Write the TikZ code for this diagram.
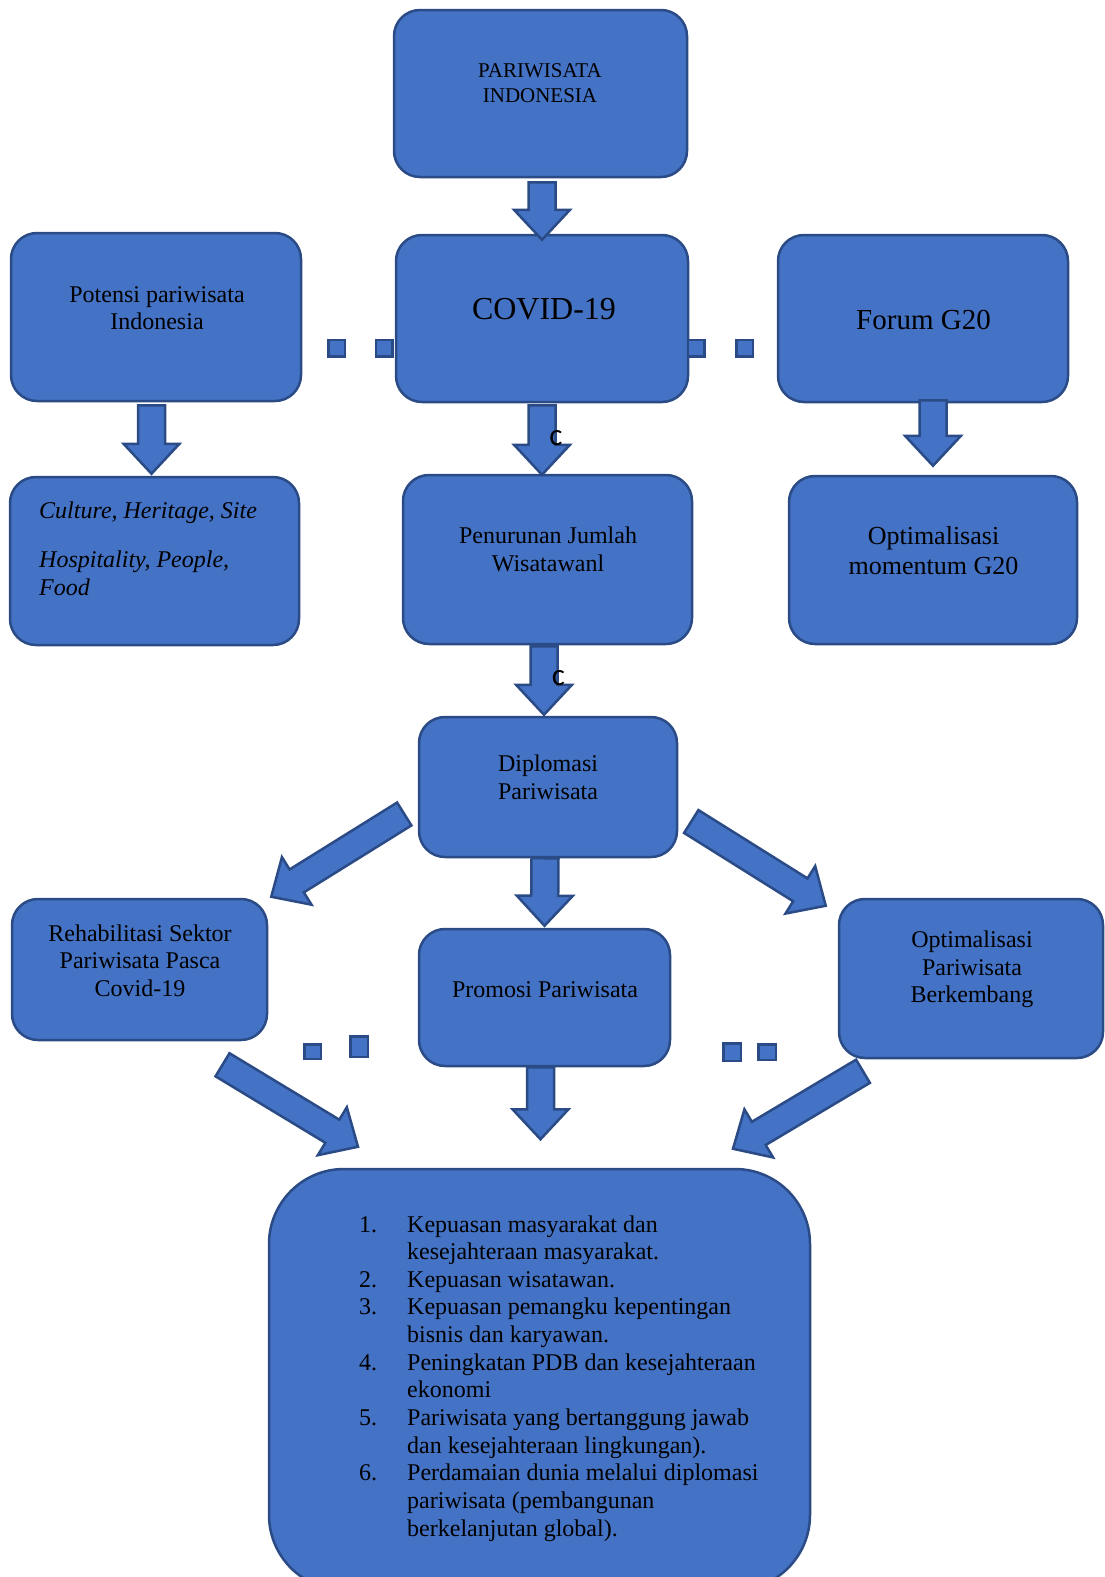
\documentclass[tikz,border=0pt]{standalone}
\usepackage{fontspec}
\setmainfont{Liberation Serif}
\newfontfamily\calibri{Carlito}
\usetikzlibrary{calc}

\definecolor{boxfill}{HTML}{4472C4}
\definecolor{boxline}{HTML}{2A4B85}

\tikzset{
  box/.style={draw=boxline, fill=boxfill, line width=2.5pt, rounded corners=26pt, inner sep=0pt},
  txt/.style={align=center, inner sep=0pt, font=\fontsize{24}{27.6}\selectfont},
  sqdot/.style={draw=boxline, fill=boxfill, line width=2.5pt},
  fatarr/.style={draw=boxline, fill=boxfill, line width=2.5pt, line join=miter},
}

% fat block arrow from #1 (tail) to #2 (tip)
\newcommand{\fatarrow}[2]{%
  \draw[fatarr] let \p1=(#1), \p2=(#2), \n1={atan2(\y2-\y1,\x2-\x1)} in
    ($(\p1)+({\n1+90}:13.5pt)$)
    -- ($(\p2)+({\n1+180}:30pt)+({\n1+90}:13.5pt)$)
    -- ($(\p2)+({\n1+180}:30pt)+({\n1+90}:28pt)$)
    -- (\p2)
    -- ($(\p2)+({\n1+180}:30pt)+({\n1-90}:28pt)$)
    -- ($(\p2)+({\n1+180}:30pt)+({\n1-90}:13.5pt)$)
    -- ($(\p1)+({\n1-90}:13.5pt)$) -- cycle;}

\begin{document}
\begin{tikzpicture}[x=1pt, y=-1pt]
    \useasboundingbox (0,0) rectangle (1105,1577);

    % boxes
    \node[box, minimum width=293, minimum height=167] (top) at (540.5,93.5) {};
    \node[box, minimum width=290, minimum height=168] (pot) at (156,317) {};
    \node[box, minimum width=292, minimum height=167] (cov) at (542,318.5) {};
    \node[box, minimum width=290, minimum height=167] (g20) at (923,318.5) {};
    \node[box, minimum width=289, minimum height=168] (cul) at (154.5,561) {};
    \node[box, minimum width=289, minimum height=169] (pen) at (547.5,559.5) {};
    \node[box, minimum width=288, minimum height=168] (mom) at (933,560) {};
    \node[box, minimum width=258, minimum height=140] (dip) at (548,787) {};
    \node[box, minimum width=255, minimum height=141] (reh) at (139.5,969.5) {};
    \node[box, minimum width=251, minimum height=137] (pro) at (544.5,997.5) {};
    \node[box, minimum width=264, minimum height=159] (opt) at (971,978.5) {};
    \node[box, rounded corners=75pt, minimum width=541, minimum height=421] (bot) at (539.5,1379.5) {};

    % texts
    \node[txt, font=\fontsize{21}{25}\selectfont] (toptxt) at (540,83) {PARIWISATA\\INDONESIA};
    \node[txt] (pottxt) at (157,308) {Potensi pariwisata\\Indonesia};
    \node[txt, font=\fontsize{32}{38}\selectfont] (covtxt) at (544,309) {COVID-19};
    \node[txt, font=\fontsize{29}{34}\selectfont] (g20txt) at (923.5,320) {Forum G20};
    \node[txt, align=left, anchor=west, font=\fontsize{24}{27.6}\selectfont\itshape] (cultxt) at (39,549)
        {Culture, Heritage, Site\\[21.5pt]Hospitality, People,\\Food};
    \node[txt] (pentxt) at (548,549.5) {Penurunan Jumlah\\Wisatawanl};
    \node[txt, font=\fontsize{26}{30}\selectfont] (momtxt) at (933.5,551) {Optimalisasi\\momentum G20};
    \node[txt] (diptxt) at (548,777) {Diplomasi\\Pariwisata};
    \node[txt] (rehtxt) at (140,960.5) {Rehabilitasi Sektor\\Pariwisata Pasca\\Covid-19};
    \node[txt] (protxt) at (545,989.5) {Promosi Pariwisata};
    \node[txt] (opttxt) at (972,969.5) {Optimalisasi\\Pariwisata\\Berkembang};
    \node[anchor=base west, inner sep=0pt, font=\fontsize{24}{27.65}\selectfont] (list) at (359,1232) {%
        \begin{tabular}[t]{@{}p{48pt}@{}l@{}}
        1. & Kepuasan masyarakat dan\\
           & kesejahteraan masyarakat.\\
        2. & Kepuasan wisatawan.\\
        3. & Kepuasan pemangku kepentingan\\
           & bisnis dan karyawan.\\
        4. & Peningkatan PDB dan kesejahteraan\\
           & ekonomi\\
        5. & Pariwisata yang bertanggung jawab\\
           & dan kesejahteraan lingkungan).\\
        6. & Perdamaian dunia melalui diplomasi\\
           & pariwisata (pembangunan\\
           & berkelanjutan global).
        \end{tabular}};

    % square dot connectors
    \foreach \x in {336.5, 384} \draw[sqdot] (\x-8.25,339.75) rectangle (\x+8.25,356.25);
    \foreach \x in {696, 744.5} \draw[sqdot] (\x-8.25,339.75) rectangle (\x+8.25,356.25);
    \draw[sqdot] (304.25,1044.25) rectangle (320.75,1058.75);
    \draw[sqdot] (350.25,1036.25) rectangle (367.75,1056.75);
    \draw[sqdot] (723.25,1043.25) rectangle (740.75,1060.75);
    \draw[sqdot] (758.25,1044.25) rectangle (775.75,1059.75);

    % block arrows
    \fatarrow{$(top.south -| cov.north)+(0,4)$}{$(cov.north)+(0,6)$}
    \fatarrow{$(pot.south -| cul.north)+(-3,3)$}{$(cul.north)+(-3,-2)$}
    \fatarrow{$(cov.south)+(0,2)$}{$(cov.south |- pen.north)+(0,1)$}
    \fatarrow{$(g20.south -| mom.north)+(0,-3)$}{$(mom.north)+(0,-9)$}
    \fatarrow{$(pen.south -| dip.north)+(-4,1)$}{$(dip.north)+(-4,-1)$}
    \fatarrow{$(dip.south)+(-3,0)$}{$(pro.north)+(0,-2)$}
    \fatarrow{$(pro.south)+(-4,0)$}{$(pro.south)+(-4,72)$}
    \fatarrow{$(dip.west)+(-13.5,27)$}{$(reh.north east)+(3,-1)$}
    \fatarrow{$(dip.east)+(13,34.5)$}{$(opt.north west)+(-12,8)$}
    \fatarrow{$(reh.south)+(83,23.5)$}{$(bot.north)+(-181.5,-21)$}
    \fatarrow{$(opt.south)+(-108,12)$}{$(bot.north)+(193.5,-19)$}

    % small c labels
    \node[inner sep=0pt, font=\calibri\fontsize{31}{36}\selectfont] (c1) at (556,438) {c};
    \node[inner sep=0pt, font=\calibri\fontsize{31}{36}\selectfont] (c2) at (558.5,678) {c};
\end{tikzpicture}
\end{document}
